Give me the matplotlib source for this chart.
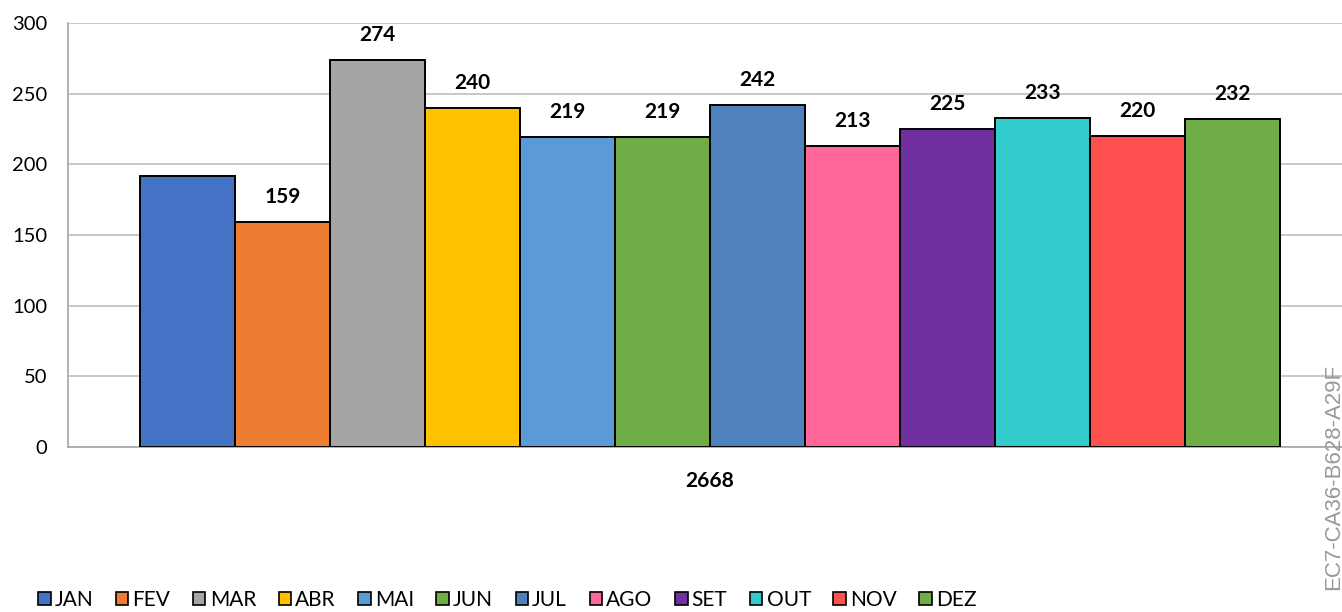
import matplotlib
matplotlib.use("Agg")
import matplotlib.pyplot as plt
from matplotlib.patches import Patch

months = ["JAN", "FEV", "MAR", "ABR", "MAI", "JUN", "JUL", "AGO", "SET", "OUT", "NOV", "DEZ"]
values = [192, 159, 274, 240, 219, 219, 242, 213, 225, 233, 220, 232]
show_label = [False] + [True] * 11
colors = ["#4472C4", "#ED7D31", "#A5A5A5", "#FFC000", "#5B9BD5", "#70AD47",
          "#4F81BD", "#FF6699", "#7030A0", "#33CCCC", "#FF5050", "#70AD47"]
category = "2668"
yticks = [0, 50, 100, 150, 200, 250, 300]
watermark = "EC7-CA36-B628-A29F"

plt.rcParams['font.family'] = ['Lato', 'DejaVu Sans']

W, H = 1342, 612
fig = plt.figure(figsize=(W / 100, H / 100), dpi=100)
ax = fig.add_axes([68 / W, 1 - 447 / H, (W - 68) / W, (447 - 23) / H])

xs = list(range(len(values)))
bars = ax.bar(xs, values, width=1.0, color=colors, edgecolor="black", linewidth=1.4, zorder=3)
for x, v, s in zip(xs, values, show_label):
    if s:
        ax.annotate(str(v), (x, v), xytext=(0, 18), textcoords="offset points",
                    ha="center", va="center", fontsize=15, fontweight="bold", color="black")

ax.set_xlim(-1.258, 12.153)
ax.set_ylim(0, 300)
ax.set_yticks(yticks)
ax.set_yticklabels([str(t) for t in yticks], fontsize=14.5)
ax.set_xticks([(len(values) - 1) / 2])
ax.set_xticklabels([category], fontsize=15, fontweight="bold")
ax.tick_params(axis="y", length=0, pad=15)
ax.tick_params(axis="x", length=0, pad=17)
ax.grid(axis="y", color="#BFBFBF", linewidth=1.2, zorder=0)
for side in ["top", "right"]:
    ax.spines[side].set_visible(False)
ax.spines["left"].set_color("#A6A6A6")
ax.spines["bottom"].set_color("#A6A6A6")
ax.spines["left"].set_linewidth(1.2)
ax.spines["bottom"].set_linewidth(1.2)

handles = [Patch(facecolor=c, edgecolor="black", linewidth=1.2) for c in colors]
fig.legend(handles, months, loc="center left", bbox_to_anchor=(38 / W, 1 - 600 / H),
           ncol=12, frameon=False, fontsize=15, handlelength=0.6, handleheight=0.6,
           handletextpad=0.2, columnspacing=1.08, borderaxespad=0, borderpad=0)

fig.text(1334 / W, 1 - 364 / H, watermark, rotation=90, ha="center", va="top",
         fontsize=16, color="#999999", family="Liberation Sans")

fig.savefig("out.png", dpi=100)
